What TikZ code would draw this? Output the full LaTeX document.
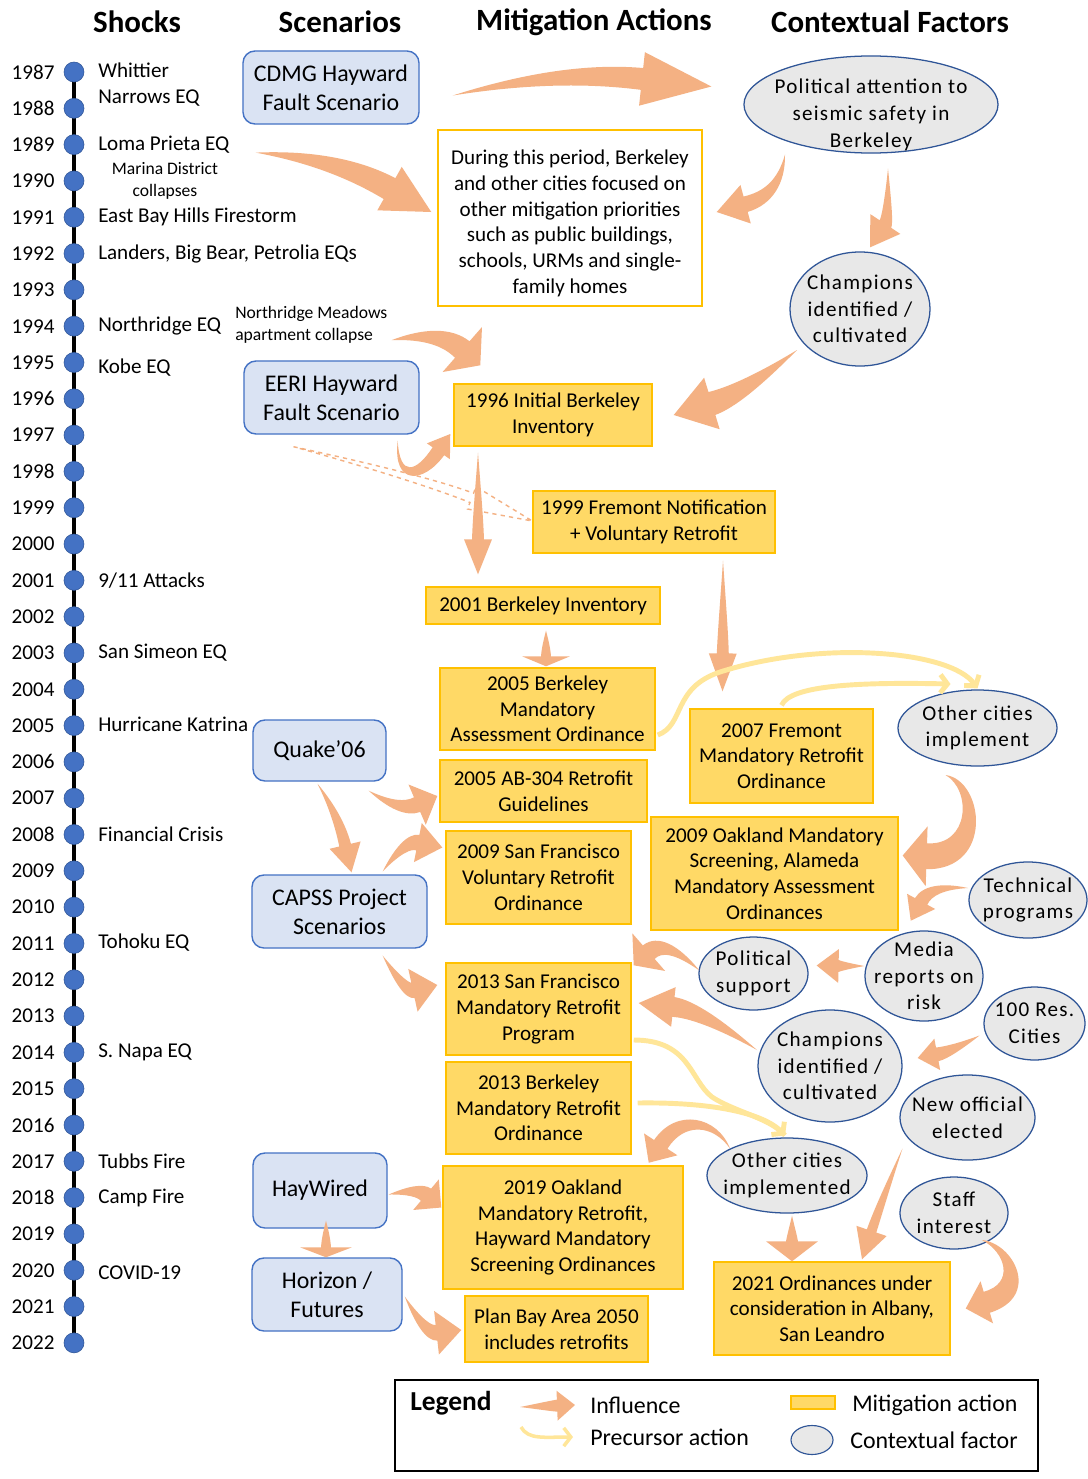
\documentclass[tikz,border=0pt]{standalone}
\usepackage{fontspec}
\setmainfont{Carlito}
\usetikzlibrary{arrows.meta,positioning,shapes.geometric,calc}
\definecolor{scenfill}{HTML}{DAE3F3}
\definecolor{scenline}{HTML}{4472C4}
\definecolor{mitfill}{HTML}{FFD966}
\definecolor{mitline}{HTML}{FFC000}
\definecolor{ctxfill}{HTML}{E8E8E8}
\definecolor{ctxline}{HTML}{2F5597}
\definecolor{inflcol}{HTML}{F4B183}
\definecolor{precol}{HTML}{FFE699}
\definecolor{dotcol}{HTML}{4472C4}
\tikzset{
  hdr/.style={font=\fontsize{22}{25}\selectfont\bfseries,inner sep=0pt},
  yr/.style={font=\fontsize{15}{18}\selectfont,anchor=east,inner sep=0pt},
  dot/.style={circle,fill=dotcol,draw=ctxline,line width=0.4pt,minimum size=0.5cm,inner sep=0pt},
  shock/.style={font=\fontsize{15}{18.4}\selectfont,anchor=west,align=left,inner sep=0pt},
  note/.style={font=\fontsize{12.5}{15.5}\selectfont,inner sep=0pt},
  scen/.style={rounded corners=0.3cm,draw=scenline,line width=1pt,fill=scenfill,align=center,inner sep=0pt,font=\fontsize{17}{20.6}\selectfont},
  mitig/.style={draw=mitline,line width=1pt,fill=mitfill,align=center,inner sep=0pt,font=\fontsize{15}{18.3}\selectfont},
  ctx/.style={ellipse,draw=ctxline,line width=0.9pt,fill=ctxfill,align=center,inner sep=-40pt,font=\fontsize{15}{19}\selectfont\addfontfeature{LetterSpace=6}},
  leg/.style={font=\fontsize{17}{20}\selectfont,anchor=west,inner sep=0pt},
  influence/.style={fill=inflcol},
  precursor/.style={draw=precol,line width=3.5pt,-{Straight Barb[length=5pt,width=13pt]}},
}
\makeatletter
% read a point into two macros (pt, no unit)
\newcommand{\fapt}[3]{%
  \tikz@scan@one@point\pgfutil@firstofone(#1)\relax
  \edef#2{\strip@pt\pgf@x}\edef#3{\strip@pt\pgf@y}}
\makeatother
% shared drawing part: tail S, controls A and B, tip T, widths
\newcommand{\fadraw}[1]{%
  \pgfmathsetmacro\fal{veclen(\faax-\fasx,\faay-\fasy)}%
  \pgfmathsetmacro\faox{(\faax-\fasx)/\fal}\pgfmathsetmacro\faoy{(\faay-\fasy)/\fal}%
  \pgfmathsetmacro\fal{veclen(\fabx-\faax,\faby-\faay)}%
  \pgfmathsetmacro\fapx{(\fabx-\faax)/\fal}\pgfmathsetmacro\fapy{(\faby-\faay)/\fal}%
  \pgfmathsetmacro\fal{veclen(\fatx-\fabx,\faty-\faby)}%
  \pgfmathsetmacro\faux{(\fatx-\fabx)/\fal}\pgfmathsetmacro\fauy{(\faty-\faby)/\fal}%
  \pgfmathsetmacro\faden{max(1+\faox*\fapx+\faoy*\fapy,0.35)}%
  \pgfmathsetmacro\faqx{0.5*\fahb*(-\faoy-\fapy)/\faden}%
  \pgfmathsetmacro\faqy{0.5*\fahb*(\faox+\fapx)/\faden}%
  \pgfmathsetmacro\faden{max(1+\fapx*\faux+\fapy*\fauy,0.35)}%
  \pgfmathsetmacro\farx{0.9*\fahb*(-\fapy-\fauy)/\faden}%
  \pgfmathsetmacro\fary{0.9*\fahb*(\fapx+\faux)/\faden}%
  \pgfmathsetmacro\fanx{\fatx-\fahl*\faux}\pgfmathsetmacro\fany{\faty-\fahl*\fauy}%
  \pgfmathsetmacro\fkax{\faax+\faqx}\pgfmathsetmacro\fkay{\faay+\faqy}%
  \pgfmathsetmacro\fkbx{\fabx+\farx}\pgfmathsetmacro\fkby{\faby+\fary}%
  \pgfmathsetmacro\fkcx{\fabx-\farx}\pgfmathsetmacro\fkcy{\faby-\fary}%
  \pgfmathsetmacro\fkdx{\faax-\faqx}\pgfmathsetmacro\fkdy{\faay-\faqy}%
  \pgfmathsetmacro\fnax{\fanx-\fahb*\fauy}\pgfmathsetmacro\fnay{\fany+\fahb*\faux}%
  \pgfmathsetmacro\fnbx{\fanx+\fahb*\fauy}\pgfmathsetmacro\fnby{\fany-\fahb*\faux}%
  \pgfmathsetmacro\fhax{\fanx-\fahh*\fauy}\pgfmathsetmacro\fhay{\fany+\fahh*\faux}%
  \pgfmathsetmacro\fhbx{\fanx+\fahh*\fauy}\pgfmathsetmacro\fhby{\fany-\fahh*\faux}%
  \path[influence,#1] (\fasx pt,\fasy pt)
    .. controls (\fkax pt,\fkay pt) and (\fkbx pt,\fkby pt) .. (\fnax pt,\fnay pt)
    -- (\fhax pt,\fhay pt) -- (\fatx pt,\faty pt) -- (\fhbx pt,\fhby pt) -- (\fnbx pt,\fnby pt)
    .. controls (\fkcx pt,\fkcy pt) and (\fkdx pt,\fkdy pt) .. cycle;
}
% tapered influence arrow: [opts]{tail}{bend point}{tip}{half body}{half head}{head length}
\newcommand{\fatarrow}[7][]{%
  \fapt{#2}{\fasx}{\fasy}\fapt{#3}{\facx}{\facy}\fapt{#4}{\fatx}{\faty}%
  \pgfmathsetmacro\fahb{#5*0.70866}\pgfmathsetmacro\fahh{#6*0.70866}\pgfmathsetmacro\fahl{#7*0.70866}%
  \pgfmathsetmacro\fal{veclen(\fatx-\facx,\faty-\facy)}%
  \pgfmathsetmacro\fanx{\fatx-\fahl*(\fatx-\facx)/\fal}\pgfmathsetmacro\fany{\faty-\fahl*(\faty-\facy)/\fal}%
  \pgfmathsetmacro\faax{\fasx+2/3*(\facx-\fasx)}\pgfmathsetmacro\faay{\fasy+2/3*(\facy-\fasy)}%
  \pgfmathsetmacro\fabx{\fanx+2/3*(\facx-\fanx)}\pgfmathsetmacro\faby{\fany+2/3*(\facy-\fany)}%
  \fadraw{#1}}
% curled influence arrow: [opts]{tail}{control 1}{control 2}{tip}{half body}{half head}{head length}
\newcommand{\fatcurl}[8][]{%
  \fapt{#2}{\fasx}{\fasy}\fapt{#3}{\faax}{\faay}\fapt{#4}{\fabx}{\faby}\fapt{#5}{\fatx}{\faty}%
  \pgfmathsetmacro\fahb{#6*0.70866}\pgfmathsetmacro\fahh{#7*0.70866}\pgfmathsetmacro\fahl{#8*0.70866}%
  \fadraw{#1}}

\begin{document}
\begin{tikzpicture}[x=0.025cm,y=-0.025cm]
  \path[use as bounding box,fill=white] (0,0) rectangle (1087,1479);

  % column heads
  \node[hdr] (hshock) at (137,22) {Shocks};
  \node[hdr] (hscen) at (340,22) {Scenarios};
  \node[hdr] (hmit) at (594,22) {Mitigation Actions};
  \node[hdr] (hctx) at (890,22) {Contextual Factors};

  % timeline
  \draw[line width=2.8pt] (74,72) -- (74,1343);
  \foreach \i in {0,...,35}{
    \pgfmathtruncatemacro\yr{1987+\i}
    \node[dot] (y\yr) at (74,{72+36.31*\i}) {};
    \node[yr] at ($(y\yr.west)+(-9,0)$) {\yr};
  }

  % shocks
  \node[shock] (whittier) at ($(y1987)+(24,13)$) {Whittier\\Narrows EQ};
  \node[shock] (loma) at ($(y1989)+(24,0)$) {Loma Prieta EQ};
  \node[note,align=center] (marina) at ($(y1990)+(91,0)$) {Marina District\\collapses};
  \node[shock] (eastbay) at ($(y1991)+(24,0)$) {East Bay Hills Firestorm};
  \node[shock] (landers) at ($(y1992)+(24,0)$) {Landers, Big Bear, Petrolia EQs};
  \node[shock] (northridge) at ($(y1994)+(24,0)$) {Northridge EQ};
  \node[note,anchor=west,align=left] (meadows) at ($(y1994)+(161,-1)$) {Northridge Meadows\\apartment collapse};
  \node[shock] (kobe) at ($(y1995)+(24,5)$) {Kobe EQ};
  \node[shock] (attacks) at ($(y2001)+(24,0)$) {9/11 Attacks};
  \node[shock] (simeon) at ($(y2003)+(24,0)$) {San Simeon EQ};
  \node[shock] (katrina) at ($(y2005)+(24,-1)$) {Hurricane Katrina};
  \node[shock] (crisis) at ($(y2008)+(24,0)$) {Financial Crisis};
  \node[shock] (tohoku) at ($(y2011)+(24,-1)$) {Tohoku EQ};
  \node[shock] (napa) at ($(y2014)+(24,0)$) {S. Napa EQ};
  \node[shock] (tubbs) at ($(y2017)+(24,0)$) {Tubbs Fire};
  \node[shock] (campfire) at ($(y2018)+(24,0)$) {Camp Fire};
  \node[shock] (covid) at ($(y2020)+(24,2)$) {COVID-19};

  % scenarios
  \node[scen,minimum width=4.4cm,minimum height=1.825cm] (cdmg) at (331,87.5) {CDMG Hayward\\Fault Scenario};
  \node[scen,minimum width=4.375cm,minimum height=1.825cm] (eeri) at (331.5,397.5) {EERI Hayward\\Fault Scenario};
  \node[scen,minimum width=3.325cm,minimum height=1.525cm] (quake) at (319.5,750.5) {Quake’06};
  \node[scen,minimum width=4.375cm,minimum height=1.825cm] (capss) at (339.5,911.5) {CAPSS Project\\Scenarios};
  \node[scen,minimum width=3.35cm,minimum height=1.875cm] (haywired) at (320,1190.5) {HayWired};
  \node[scen,minimum width=3.75cm,minimum height=1.825cm] (horizon) at (327,1294.5) {Horizon /\\Futures};

  % mitigation actions
  \node[mitig,fill=white,minimum width=6.6cm,minimum height=4.4cm] (during) at (570,218) {\rule{0pt}{18pt}During this period, Berkeley\\and other cities focused on\\other mitigation priorities\\such as public buildings,\\schools, URMs and single-\\family homes};
  \node[mitig,minimum width=4.95cm,minimum height=1.55cm] (m1996) at (553,415) {1996 Initial Berkeley\\Inventory};
  \node[mitig,minimum width=6.05cm,minimum height=1.55cm] (m1999) at (654,522) {1999 Fremont Notification\\+ Voluntary Retrofit};
  \node[mitig,minimum width=5.85cm,minimum height=0.925cm] (m2001) at (543,605.5) {2001 Berkeley Inventory};
  \node[mitig,minimum width=5.375cm,minimum height=2.05cm] (m2005b) at (547.5,709) {2005 Berkeley\\Mandatory\\Assessment Ordinance};
  \node[mitig,minimum width=5.175cm,minimum height=1.55cm] (m2005ab) at (543.5,791) {2005 AB-304 Retrofit\\Guidelines};
  \node[mitig,minimum width=4.575cm,minimum height=2.35cm] (m2007) at (781.5,756) {2007 Fremont\\Mandatory Retrofit\\Ordinance};
  \node[mitig,minimum width=4.625cm,minimum height=2.325cm] (m2009sf) at (538.5,877.5) {2009 San Francisco\\Voluntary Retrofit\\Ordinance};
  \node[mitig,minimum width=6.175cm,minimum height=2.825cm] (m2009oak) at (774.5,873.5) {2009 Oakland Mandatory\\Screening, Alameda\\Mandatory Assessment\\Ordinances};
  \node[mitig,minimum width=4.625cm,minimum height=2.3cm] (m2013sf) at (538.5,1009) {2013 San Francisco\\Mandatory Retrofit\\Program};
  \node[mitig,minimum width=4.625cm,minimum height=2.3cm] (m2013b) at (538.5,1108) {2013 Berkeley\\Mandatory Retrofit\\Ordinance};
  \node[mitig,minimum width=6cm,minimum height=3.075cm] (m2019) at (563,1227.5) {2019 Oakland\\Mandatory Retrofit,\\Hayward Mandatory\\Screening Ordinances};
  \node[mitig,minimum width=4.575cm,minimum height=1.65cm] (plan) at (556.5,1329) {Plan Bay Area 2050\\includes retrofits};
  \node[mitig,minimum width=5.9cm,minimum height=2.325cm] (m2021) at (832,1308.5) {2021 Ordinances under\\consideration in Albany,\\San Leandro};

  % contextual factors
  \node[ctx,minimum width=6.35cm,minimum height=2.425cm] (polatt) at (871,104.5) {\rule{0pt}{25pt}Political attention to\\seismic safety in\\Berkeley};
  \node[ctx,minimum width=3.5cm,minimum height=2.85cm] (champ1) at (860,309) {Champions\\identified /\\cultivated};
  \node[ctx,minimum width=3.975cm,minimum height=1.9cm] (others1) at (977.5,728) {Other cities\\implement};
  \node[ctx,minimum width=2.95cm,minimum height=1.9cm] (tech) at (1028,900) {Technical\\programs};
  \node[ctx,minimum width=2.725cm,minimum height=1.825cm] (polsup) at (753.5,973.5) {Political\\support};
  \node[ctx,minimum width=2.95cm,minimum height=2.25cm] (media) at (924,976) {Media\\reports on\\risk};
  \node[ctx,minimum width=2.525cm,minimum height=1.825cm] (res100) at (1034.5,1023.5) {100 Res.\\Cities};
  \node[ctx,minimum width=3.6cm,minimum height=2.8cm] (champ2) at (830,1066) {Champions\\identified /\\cultivated};
  \node[ctx,minimum width=3.375cm,minimum height=2.125cm] (newoff) at (967.5,1117.5) {New official\\elected};
  \node[ctx,minimum width=4cm,minimum height=1.875cm] (others2) at (787,1175.5) {Other cities\\implemented};
  \node[ctx,minimum width=2.7cm,minimum height=1.8cm] (staff) at (954,1213) {Staff\\interest};

  % influence arrows
  \fatarrow{$(cdmg.east)+(33,8)$}{560,70}{$(polatt.west)+(-32,-18)$}{11}{27}{70}
  \fatarrow{$(loma.east)+(26,8)$}{335,158}{$(during.west)+(-6,-6)$}{12}{25}{48}
  \fatarrow{$(polatt.center)+(-86,50)$}{780,195}{$(during.east)+(14,-6)$}{8}{20}{30}
  \fatarrow{$(polatt.center)+(17,64)$}{888,220}{$(champ1.north)+(10,-4)$}{7}{18}{28}
  \fatarrow{$(champ1.center)+(-63,41)$}{740,395}{$(m1996.east)+(21,0)$}{12}{27}{40}
  \fatarrow{$(meadows.east)+(4,15)$}{440,330}{$(m1996.north west)+(27,-18)$}{11}{30}{24}
  \fatcurl{$(eeri.south east)+(-22,6)$}{396,482}{420,478}{$(m1996.west)+(-3,19)$}{7}{14}{21}
  \fatarrow{$(m1996.south)+(-75,6)$}{478,510}{$(m2001.north)+(-65,-12)$}{6}{14}{35}
  \fatarrow[fill=none,draw=inflcol,dashed,line width=1pt]{$(eeri.south)+(-38,12)$}{420,478}{$(m1999.west)+(0,-1)$}{5}{12}{65}
  \fatarrow{$(m1999.south)+(69,7)$}{723,625}{$(m2007.north)+(-59,-17)$}{6}{14}{38}
  \fatarrow{$(m2001.south)+(3,6)$}{546,645}{$(m2005b.north)+(-1.5,-1)$}{5}{24}{10}
  \fatarrow{$(quake.south east)+(-18,9)$}{400,812}{$(m2005ab.west)+(-2,5)$}{8}{22}{22}
  \fatarrow{$(quake.south)+(-2,2)$}{338,815}{$(capss.north)+(12,-2)$}{6}{16}{28}
  \fatarrow{$(capss.north east)+(-45,-3)$}{405,840}{$(m2009sf.west)+(-3,-30)$}{8}{20}{25}
  \fatarrow{$(capss.south east)+(-45,7)$}{405,992}{$(m2013sf.west)+(-8,-24)$}{8}{22}{25}
  \fatcurl{$(others1.center)+(-32,47)$}{978,785}{982,858}{$(m2009oak.east)+(4,-18)$}{13}{30}{24}
  \fatarrow{$(tech.center)+(-60,-12)$}{930,885}{$(m2009oak.south east)+(12,-10)$}{7}{16}{22}
  \fatarrow{$(polsup.west)+(1,-3)$}{665,938}{$(m2013sf.north east)+(2,3)$}{9}{25}{20}
  \fatarrow{$(media.west)+(0,-10)$}{840,966}{$(polsup.east)+(8,-8)$}{6}{17}{22}
  \fatarrow{$(champ2.center)+(-73,-16)$}{700,1010}{$(m2013sf.east)+(7,-6)$}{10}{20}{35}
  \fatarrow{$(res100.center)+(-55,12)$}{950,1052}{$(champ2.east)+(15,-8)$}{7}{16}{20}
  \fatcurl{$(others2.center)+(-57,-27)$}{715,1120}{680,1115}{$(m2013b.south east)+(17,8)$}{8}{20}{22}
  \fatarrow{$(others2.south)+(5,2)$}{792,1235}{$(m2021.north)+(-40,0)$}{6}{26}{20}
  \fatarrow{$(newoff.center)+(-65,31)$}{882,1200}{$(m2021.north)+(30,-2)$}{5}{16}{30}
  \fatcurl{$(staff.center)+(28,27)$}{1010,1248}{1028,1290}{$(m2021.east)+(15,0)$}{11}{22}{22}
  \fatarrow{$(haywired.east)+(1,4)$}{418,1188}{$(m2019.west)+(-1,-20)$}{8}{20}{20}
  \fatarrow{$(haywired.south)+(6,-8)$}{326,1235}{$(horizon.north)+(-1,0)$}{5}{26}{10}
  \fatarrow{$(horizon.east)+(2,2)$}{425,1334}{$(plan.west)+(-3,1)$}{8}{22}{25}

  % precursor actions
  \draw[precursor] ($(m2005b.east)+(2,26)$) .. controls (685,725) and (672,688) .. (720,672)
    .. controls (820,640) and (950,650) .. ($(others1.north)+(0,-1)$);
  \draw[precursor] ($(m2007.north)+(0,-3)$) .. controls (790,685) and (860,682) .. ($(others1.center)+(-27,-44)$);
  \draw[precursor,-] ($(m2013sf.east)+(2,31)$) .. controls (690,1040) and (690,1080) .. (712,1097)
    .. controls (735,1112) and (770,1118) .. ($(others2.north)+(-2,-2)$);
  \draw[precursor] ($(m2013b.east)+(6,-5)$) .. controls (700,1102) and (760,1110) .. ($(others2.north)+(-2,-2)$);

  % legend
  \node[draw=black,line width=1.5pt,minimum width=16.075cm,minimum height=2.275cm,inner sep=0pt] (legbox) at (716.5,1425.5) {};
  \node[leg,font=\fontsize{19.5}{22}\selectfont\bfseries] (legtitle) at (410,1403) {Legend};
  \node[leg] (inflab) at (590,1405) {Influence};
  \node[leg] (prelab) at (590,1437) {Precursor action};
  \node[draw=mitline,fill=mitfill,line width=1pt,minimum width=1.1cm,minimum height=0.325cm,inner sep=0pt] (mitsample) at (813,1402.5) {};
  \node[leg] (mitlab) at (852,1405) {Mitigation action};
  \node[ellipse,draw=ctxline,fill=ctxfill,line width=0.8pt,minimum width=1.05cm,minimum height=0.725cm,inner sep=0pt] (ctxsample) at (812,1440) {};
  \node[leg] (ctxlab) at (850,1440) {Contextual factor};
  \fatarrow{$(inflab.west)+(-70,2)$}{548,1406}{$(inflab.west)+(-15,0)$}{6}{15}{18}
  \draw[precursor,line width=2.5pt] ($(prelab.west)+(-69,-10)$) .. controls (528,1440) and (545,1437) .. ($(prelab.west)+(-17,0)$);
\end{tikzpicture}
\end{document}
